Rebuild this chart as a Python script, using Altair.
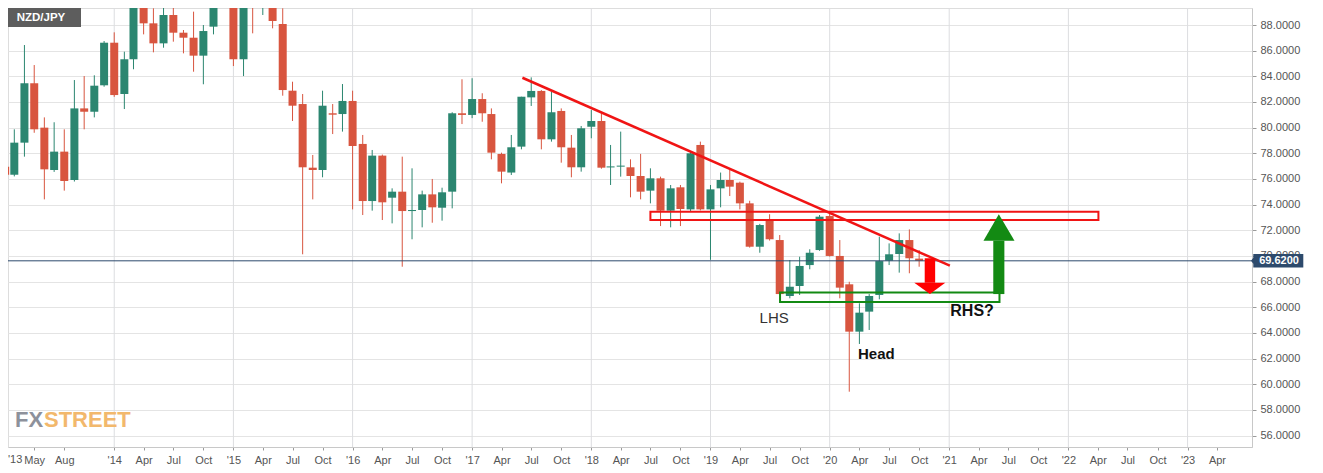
import altair as alt
import pandas as pd

# ---------------- data ----------------
months = pd.date_range("2013-02-01", "2020-10-01", freq="MS").strftime("%Y-%m-%d").tolist()

open_ = [
    76.95, 76.33, 78.83, 83.46, 80.0, 76.7, 78.13, 75.92, 81.5, 81.24, 83.3,
    86.62, 82.62, 85.33, 89.56, 88.13, 86.57, 88.78, 87.4, 87.01, 85.61, 87.87, 92.3,
    93.1, 85.33, 90.3, 89.8, 90.6, 88.08, 82.88, 81.84, 76.88, 76.7, 81.12, 81.06,
    82.08, 78.73, 74.28, 77.82, 74.54, 75.01, 73.5, 73.58, 74.8, 73.76, 75.01, 81.12,
    80.99, 82.23, 81.06, 77.95, 76.5, 78.52, 82.36, 82.86, 79.09, 81.3, 78.44, 76.91,
    80.07, 80.52, 76.9, 76.96, 76.91, 76.23, 75.09, 76.05, 73.53, 75.35, 73.63, 78.65,
    73.63, 75.27, 75.92, 75.71, 74.1, 70.72, 72.8, 71.24, 66.88, 67.66, 69.29, 70.46,
    73.11, 70.0, 67.79, 64.1, 65.66, 66.96, 69.63, 70.15, 71.24, 69.79,
]
high = [
    79.7, 79.87, 86.44, 84.88, 80.8, 80.42, 79.87, 83.71, 84.02, 84.08, 86.75,
    87.43, 85.92, 90.5, 90.3, 89.3, 89.48, 89.74, 87.61, 89.04, 88.0, 93.5, 96.0,
    93.9, 91.0, 91.5, 91.3, 91.5, 89.3, 83.58, 82.62, 77.87, 82.88, 81.84, 83.4,
    82.88, 79.43, 78.26, 77.9, 75.27, 77.74, 76.83, 75.09, 76.0, 75.32, 81.2, 83.77,
    83.85, 82.68, 81.5, 78.05, 79.43, 82.41, 83.92, 82.93, 82.8, 81.5, 79.43, 80.13,
    81.37, 81.12, 78.65, 79.69, 77.53, 77.95, 76.83, 76.18, 75.53, 75.53, 78.13, 78.91,
    75.53, 76.5, 76.7, 75.79, 74.3, 72.5, 73.25, 71.63, 69.68, 69.94, 70.52, 73.19,
    73.45, 71.24, 67.99, 66.31, 67.03, 71.5, 70.98, 71.76, 72.07, 70.46,
]
low = [
    75.15, 76.2, 77.74, 79.6, 74.41, 76.55, 75.09, 75.8, 79.87, 80.8, 83.19,
    82.4, 81.45, 84.55, 87.27, 85.87, 86.23, 86.7, 85.79, 84.36, 83.38, 87.27, 90.4,
    84.8, 84.02, 87.35, 88.78, 87.74, 82.49, 80.52, 70.13, 74.41, 76.13, 79.5, 79.69,
    73.63, 73.19, 73.53, 72.8, 72.54, 69.16, 71.3, 72.23, 72.59, 72.75, 73.71, 80.28,
    80.74, 80.46, 77.53, 75.66, 76.31, 78.31, 81.69, 78.31, 78.91, 77.27, 76.13, 76.57,
    79.17, 76.8, 75.53, 76.18, 74.57, 74.41, 74.1, 72.33, 72.23, 72.33, 73.5, 73.55,
    69.7, 73.79, 74.67, 73.63, 70.65, 70.25, 71.2, 66.95, 66.7, 66.96, 68.96, 70.4,
    69.95, 66.7, 59.42, 63.14, 64.23, 66.62, 69.29, 68.7, 68.65, 69.16,
]
close = [
    76.33, 78.83, 83.46, 79.87, 76.75, 78.13, 75.84, 81.5, 81.24, 83.27, 86.62,
    82.54, 85.33, 89.56, 88.13, 86.57, 88.78, 87.4, 87.01, 85.61, 87.53, 92.3, 93.1,
    85.33, 90.3, 89.8, 90.6, 88.31, 82.93, 81.71, 76.91, 76.7, 81.71, 81.01, 82.08,
    78.57, 74.28, 77.82, 74.18, 75.01, 73.5, 73.58, 74.8, 73.79, 74.96, 81.12, 80.99,
    82.23, 81.12, 78.05, 76.57, 78.47, 82.41, 82.86, 79.09, 81.2, 78.47, 76.91, 79.95,
    80.52, 76.88, 76.98, 77.04, 76.23, 75.01, 76.05, 73.53, 75.27, 73.66, 78.0, 73.63,
    75.19, 75.92, 75.4, 74.1, 70.72, 72.41, 71.3, 67.03, 67.6, 69.22, 70.25, 73.06,
    70.0, 67.53, 64.1, 65.58, 66.88, 69.6, 70.13, 71.24, 69.82, 69.62,
]

current_price = [69.62]

x_ticks = [
    "2013-05-01", "2013-08-01",
    "2014-01-01", "2014-04-01", "2014-07-01", "2014-10-01",
    "2015-01-01", "2015-04-01", "2015-07-01", "2015-10-01",
    "2016-01-01", "2016-04-01", "2016-07-01", "2016-10-01",
    "2017-01-01", "2017-04-01", "2017-07-01", "2017-10-01",
    "2018-01-01", "2018-04-01", "2018-07-01", "2018-10-01",
    "2019-01-01", "2019-04-01", "2019-07-01", "2019-10-01",
    "2020-01-01", "2020-04-01", "2020-07-01", "2020-10-01",
    "2021-01-01", "2021-04-01", "2021-07-01", "2021-10-01",
    "2022-01-01", "2022-04-01", "2022-07-01", "2022-10-01",
    "2023-01-01", "2023-04-01",
]
year_lines = ["2014-01-01", "2015-01-01", "2016-01-01", "2017-01-01", "2018-01-01",
              "2019-01-01", "2020-01-01", "2021-01-01", "2022-01-01", "2023-01-01"]
y_ticks = list(range(56, 90, 2))

# annotations (data coordinates)
trend_dates = ["2017-06-04", "2021-01-03"]
trend_values = [83.89, 69.24]
resist_box = {"d1": ["2018-07-01"], "d2": ["2022-04-03"], "v1": [72.8], "v2": [73.45]}
neck_box = {"d1": ["2019-08-02"], "d2": ["2021-06-04"], "v1": [66.41], "v2": [67.15]}
down_shaft = {"d1": ["2020-10-18"], "d2": ["2020-11-19"], "v1": [67.91], "v2": [69.82]}
down_head_dates = ["2020-09-16", "2020-11-03", "2020-12-20"]
down_head_base = [67.91, 67.91, 67.91]
down_head_tip = [67.91, 67.03, 67.91]
up_shaft = {"d1": ["2021-05-16"], "d2": ["2021-06-19"], "v1": [67.03], "v2": [71.19]}
up_head_dates = ["2021-04-16", "2021-06-02", "2021-07-20"]
up_head_base = [71.19, 71.19, 71.19]
up_head_tip = [71.19, 73.25, 71.19]
labels = {"d": ["2019-07-15", "2020-05-23", "2021-03-12"],
          "v": [65.2, 62.36, 65.71],
          "t": ["LHS", "Head", "RHS?"]}

# ---------------- styling ----------------
W, H = 1244, 439
GREEN = "#2b8670"
RED = "#d8553f"
ANN_RED = "#f01414"
ANN_GREEN = "#138a13"
NAVY = "#2d4a6c"
FONT = "Liberation Sans, Arial, Helvetica, sans-serif"


def ms(s):
    return int(pd.Timestamp(s, tz="UTC").value // 10**6)


xscale = alt.Scale(type="utc", domain=[ms("2013-02-25"), ms("2023-07-02")], nice=False)
yscale = alt.Scale(domain=[55.11, 89.325], nice=False, zero=False)

xaxis = alt.Axis(
    values=[ms(t) for t in x_ticks],
    labelExpr="utcmonth(datum.value) == 0 ? \"'\" + utcFormat(datum.value, '%y') : utcFormat(datum.value, '%b')",
    grid=False, tickSize=3, tickColor="#9a9a9a", domainColor="#c8c8c8",
    labelColor="#555555", labelFont=FONT, labelFontSize=11, labelPadding=4,
    labelOverlap=False, title=None,
)
yaxis = alt.Axis(
    orient="right", values=y_ticks, format=".4f", grid=True, gridColor="#e4e4e4",
    tickSize=4, tickColor="#9a9a9a", domainColor="#c8c8c8", labelColor="#555555",
    labelFont=FONT, labelFontSize=11, labelPadding=4, title=None,
)


def X(field):
    return alt.X(field, type="temporal", scale=xscale, axis=xaxis)


def Y(field):
    return alt.Y(field, type="quantitative", scale=yscale, axis=yaxis)


candles = pd.DataFrame({"date": months, "open": open_, "high": high, "low": low, "close": close})
up_cond = alt.condition("datum.close >= datum.open", alt.value(GREEN), alt.value(RED))

grid_years = alt.Chart(pd.DataFrame({"d": year_lines})).mark_rule(
    color="#dcdde0", strokeWidth=1, clip=True
).encode(x=X("d"))

wicks = alt.Chart(candles).mark_rule(strokeWidth=1, clip=True).encode(
    x=X("date"), y=Y("low"), y2="high", color=up_cond
)
bodies = alt.Chart(candles).mark_bar(size=8, clip=True).encode(
    x=X("date"), y=Y("open"), y2="close", color=up_cond
)

price_df = pd.DataFrame({"price": current_price})
price_line = alt.Chart(price_df).mark_rule(color=NAVY, strokeWidth=1, clip=True).encode(y=Y("price"))

trend = alt.Chart(pd.DataFrame({"d": trend_dates, "v": trend_values})).mark_line(
    color=ANN_RED, strokeWidth=2.5, clip=True
).encode(x=X("d"), y=Y("v"))


def box(spec, color):
    return alt.Chart(pd.DataFrame(spec)).mark_rect(
        fill="transparent", stroke=color, strokeWidth=2, clip=True
    ).encode(x=X("d1"), x2="d2", y=Y("v1"), y2="v2")


def solid(spec, color):
    return alt.Chart(pd.DataFrame(spec)).mark_rect(color=color, clip=True).encode(
        x=X("d1"), x2="d2", y=Y("v1"), y2="v2"
    )


def head(dates, base, tip, color):
    return alt.Chart(pd.DataFrame({"d": dates, "b": base, "t": tip})).mark_area(
        color=color, opacity=1, clip=True, orient="vertical"
    ).encode(x=X("d"), y=Y("b"), y2="t")


resist = box(resist_box, ANN_RED)
neck = box(neck_box, ANN_GREEN)
dshaft = solid(down_shaft, "#ff0000")
dhead = head(down_head_dates, down_head_base, down_head_tip, "#ff0000")
ushaft = solid(up_shaft, ANN_GREEN)
uhead = head(up_head_dates, up_head_base, up_head_tip, ANN_GREEN)

lab_df = pd.DataFrame(labels)
lhs = alt.Chart(lab_df[lab_df.t == "LHS"]).mark_text(
    font=FONT, fontSize=15, color="#333333", baseline="middle"
).encode(x=X("d"), y=Y("v"), text="t")
headt = alt.Chart(lab_df[lab_df.t == "Head"]).mark_text(
    font=FONT, fontSize=15, fontWeight="bold", color="#111111", baseline="middle"
).encode(x=X("d"), y=Y("v"), text="t")
rhs = alt.Chart(lab_df[lab_df.t == "RHS?"]).mark_text(
    font=FONT, fontSize=16, fontWeight="bold", color="#111111", baseline="middle"
).encode(x=X("d"), y=Y("v"), text="t")

# current price tag on the right axis
tag_shape = "M-1.09,0L-1,-0.12L-1,-0.27L1,-0.27L1,0.27L-1,0.27L-1,0.12Z"
tag = alt.Chart(price_df).mark_point(
    shape=tag_shape, size=2500, filled=True, fill=NAVY, opacity=1, strokeWidth=0, clip=False
).encode(x=alt.value(W + 26.3), y=Y("price"))
tag_text = alt.Chart(price_df).mark_text(
    font=FONT, fontSize=11, fontWeight="bold", color="white", baseline="middle", align="center"
).encode(x=alt.value(W + 27), y=Y("price"), text=alt.Text("price:Q", format=".4f"))

one = pd.DataFrame({"a": [0]})
title_box = alt.Chart(one).mark_rect(color="#5d5d5d").encode(
    x=alt.value(0), x2=alt.value(73), y=alt.value(0), y2=alt.value(19)
)
title_text = alt.Chart(one).mark_text(
    text="NZD/JPY", font=FONT, fontSize=11.5, fontWeight="bold", color="white",
    align="center", baseline="middle"
).encode(x=alt.value(33), y=alt.value(9.5))

first_label = alt.Chart(one).mark_text(
    text="'13", font=FONT, fontSize=11, color="#555555", align="left", baseline="top"
).encode(x=alt.value(0), y=alt.value(H + 7))

WM_FONT = "Liberation Sans, Arial, sans-serif"
wm_fx = alt.Chart(one).mark_text(
    text="FX", font=WM_FONT, fontSize=22, fontWeight="bold", color="#8d919b",
    align="left", baseline="alphabetic"
).encode(x=alt.value(7), y=alt.value(419))
wm_street = alt.Chart(one).mark_text(
    text="STREET", font=WM_FONT, fontSize=22, fontWeight="bold", color="#f2b86c",
    align="left", baseline="alphabetic"
).encode(x=alt.value(36), y=alt.value(419))

chart = alt.layer(
    grid_years, wicks, bodies, price_line, trend, resist, neck,
    dshaft, dhead, ushaft, uhead, lhs, headt, rhs,
    tag, tag_text, title_box, title_text, first_label, wm_fx, wm_street,
).properties(
    width=W, height=H,
    autosize=alt.AutoSizeParams(type="none"),
    padding={"left": 0, "top": 0, "right": 63, "bottom": 20},
).configure_view(
    fill="#f8f8f8", stroke="#dcdcdc"
).configure(background="white")

chart.save("out.html", embed_options={"renderer": "svg", "actions": False})
